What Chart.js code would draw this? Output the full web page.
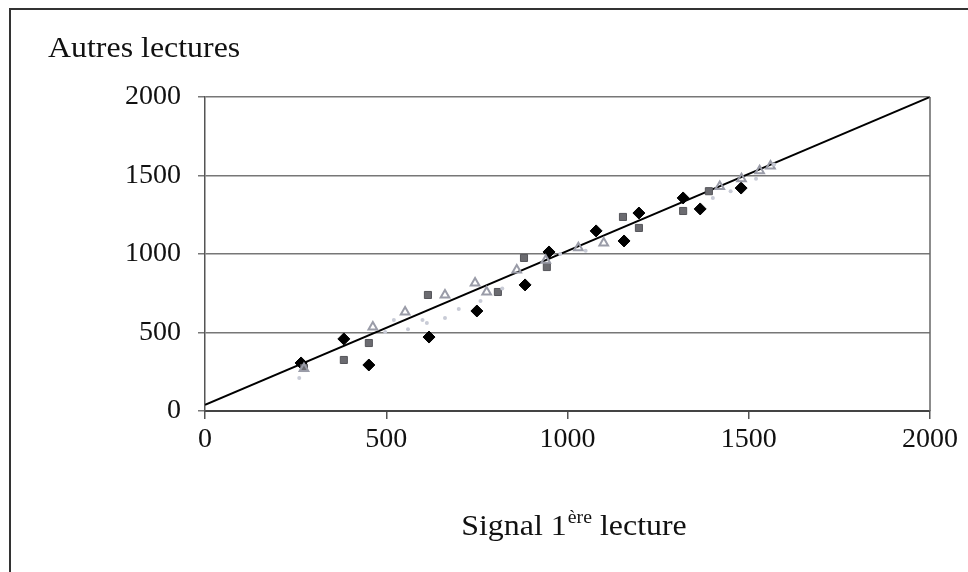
<!DOCTYPE html>
<html>
<head>
<meta charset="utf-8">
<script src="https://cdn.jsdelivr.net/npm/chart.js@4"></script>
<style>
  html, body { margin: 0; padding: 0; background: #fff; }
  #wrap { width: 968px; height: 572px; position: relative; }
</style>
</head>
<body>
<div id="wrap"><canvas id="chart" width="968" height="572"></canvas></div>
<script>
// -----------------------------
// DATA
// -----------------------------
const diamondX = [265, 383, 452, 618, 750, 883, 949, 1079, 1156, 1197, 1319, 1366, 1479];
const diamondY = [306, 459, 293, 471, 637, 803, 1013, 1147, 1083, 1261, 1357, 1287, 1420];

const squareX = [273, 383, 452, 615, 808, 880, 943, 1153, 1197, 1319, 1390];
const squareY = [274, 325, 433, 739, 758, 975, 917, 1236, 1166, 1274, 1400];

const triangleX = [273, 463, 552, 662, 745, 777, 860, 940, 1030, 1100, 1420, 1480, 1530, 1560];
const triangleY = [270, 535, 631, 739, 815, 758, 898, 960, 1040, 1070, 1430, 1480, 1530, 1560];

const dotX = [260, 497, 521, 560, 600, 612, 662, 700, 760, 820, 980, 1050, 1401, 1450, 1520, 1570];
const dotY = [210, 503, 580, 520, 580, 560, 592, 650, 700, 780, 1000, 1020, 1357, 1400, 1480, 1570];

const lineX = [0, 2000];
const lineY = [40, 2000];

const tickValues = [0, 500, 1000, 1500, 2000];

const yTitle = "Autres lectures";
const xTitleMain = "Signal 1";
const xTitleSup = "ère";
const xTitleEnd = " lecture";

const FONT = "'Liberation Serif', 'Times New Roman', serif";

function toPoints(xs, ys) {
    return xs.map((x, i) => ({ x: x, y: ys[i] }));
}

// -----------------------------
// FRAME + TITLES PLUGIN
// -----------------------------
const framePlugin = {
    id: 'frame',
    beforeDraw(chart) {
        const ctx = chart.ctx;
        ctx.save();
        ctx.fillStyle = '#fff';
        ctx.fillRect(0, 0, chart.width, chart.height);
        ctx.restore();
    },
    afterDraw(chart) {
        const ctx = chart.ctx;
        const a = chart.chartArea;
        ctx.save();
        // outer frame (top + left edges visible)
        ctx.strokeStyle = '#333';
        ctx.lineWidth = 2;
        ctx.beginPath();
        ctx.moveTo(968, 9);
        ctx.lineTo(10, 9);
        ctx.lineTo(10, 572);
        ctx.stroke();
        // right border of plot area
        ctx.strokeStyle = '#666';
        ctx.lineWidth = 1.5;
        ctx.beginPath();
        ctx.moveTo(a.right, a.top);
        ctx.lineTo(a.right, a.bottom);
        ctx.stroke();

        ctx.fillStyle = '#111';
        ctx.textBaseline = 'alphabetic';
        const sx = 1.1; // text in the picture is a bit wider than the font
        // y title
        ctx.save();
        ctx.translate(48, 57);
        ctx.scale(sx, 1);
        ctx.font = '29px ' + FONT;
        ctx.textAlign = 'left';
        ctx.fillText(yTitle, 0, 0);
        ctx.restore();

        // x title with superscript
        const base = 535;
        ctx.font = '29px ' + FONT;
        const w1 = ctx.measureText(xTitleMain).width;
        const w3 = ctx.measureText(xTitleEnd).width;
        ctx.font = '18px ' + FONT;
        const w2 = ctx.measureText(xTitleSup).width;
        const total = (w1 + w2 + 1 + w3) * sx;
        ctx.save();
        ctx.translate(574 - total / 2, base);
        ctx.scale(sx, 1);
        let x = 0;
        ctx.font = '29px ' + FONT;
        ctx.fillText(xTitleMain, x, 0);
        x += w1;
        ctx.font = '18px ' + FONT;
        ctx.fillText(xTitleSup, x + 1, -12);
        x += w2 + 1;
        ctx.font = '29px ' + FONT;
        ctx.fillText(xTitleEnd, x, 0);
        ctx.restore();
        ctx.restore();
    }
};

// -----------------------------
// RENDER SCATTER
// -----------------------------
function renderScatter() {
    const canvas = document.getElementById('chart');
    new Chart(canvas, {
        type: 'scatter',
        data: {
            datasets: [
                {
                    label: 'dots',
                    data: toPoints(dotX, dotY),
                    pointStyle: 'circle',
                    pointRadius: 2,
                    backgroundColor: '#c8cbd6',
                    borderWidth: 0
                },
                {
                    label: 'triangles',
                    data: toPoints(triangleX, triangleY),
                    pointStyle: 'triangle',
                    pointRadius: 5,
                    backgroundColor: 'rgba(255,255,255,0)',
                    borderColor: '#9a9ca8',
                    borderWidth: 2
                },
                {
                    label: 'squares',
                    data: toPoints(squareX, squareY),
                    pointStyle: 'rect',
                    pointRadius: 5,
                    backgroundColor: '#6b6b70',
                    borderColor: '#55555a',
                    borderWidth: 1
                },
                {
                    label: 'diamonds',
                    data: toPoints(diamondX, diamondY),
                    pointStyle: 'rectRot',
                    pointRadius: 6,
                    backgroundColor: '#000',
                    borderColor: '#000',
                    borderWidth: 1
                },
                {
                    type: 'line',
                    label: 'y=x',
                    data: toPoints(lineX, lineY),
                    borderColor: '#000',
                    borderWidth: 2,
                    pointRadius: 0,
                    fill: false
                }
            ]
        },
        options: {
            responsive: false,
            animation: false,
            layout: { padding: { top: 97, right: 38, bottom: 0, left: 0 } },
            plugins: {
                legend: { display: false },
                tooltip: { enabled: false }
            },
            scales: {
                x: {
                    type: 'linear',
                    min: 0, max: 2000,
                    afterBuildTicks: s => { s.ticks = tickValues.map(v => ({ value: v })); },
                    afterFit: s => { s.height = 161; },
                    grid: {
                        drawOnChartArea: false,
                        drawTicks: true,
                        tickLength: 8,
                        color: '#555',
                        lineWidth: 1.5
                    },
                    border: { color: '#444', width: 2 },
                    ticks: {
                        color: '#111',
                        font: { family: FONT, size: 28 },
                        padding: 4,
                        maxRotation: 0,
                        callback: v => String(v)
                    }
                },
                y: {
                    type: 'linear',
                    min: 0, max: 2000,
                    afterBuildTicks: s => { s.ticks = tickValues.map(v => ({ value: v })); },
                    afterFit: s => { s.width = 205; },
                    grid: {
                        color: '#777',
                        lineWidth: 1.5,
                        drawTicks: true,
                        tickLength: 7
                    },
                    border: { color: '#555', width: 1.5 },
                    ticks: {
                        color: '#111',
                        font: { family: FONT, size: 28 },
                        padding: 17,
                        callback: v => String(v)
                    }
                }
            }
        },
        plugins: [framePlugin]
    });
}

document.addEventListener('DOMContentLoaded', renderScatter);
</script>
</body>
</html>
